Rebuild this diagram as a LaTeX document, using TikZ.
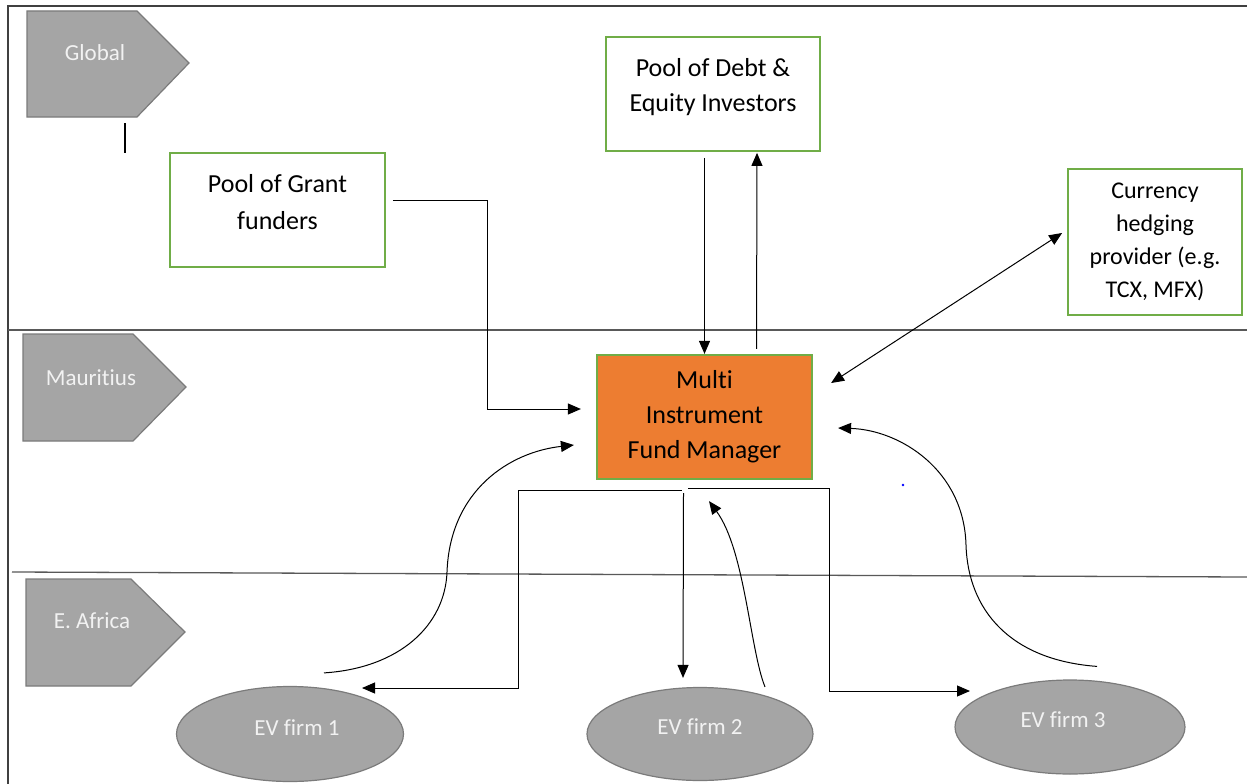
\documentclass[tikz,border=0pt]{standalone}
\usepackage{fontspec}
\setmainfont[RawFeature={-liga;-clig;-calt;-dlig}]{Carlito}
\usetikzlibrary{arrows.meta,shapes.geometric}
\definecolor{grn}{HTML}{70AD47}
\definecolor{org}{HTML}{ED7D31}
\definecolor{gry}{HTML}{A5A5A5}
\definecolor{gryd}{HTML}{7B7B7B}
\definecolor{txtw}{HTML}{F2F2F2}
\definecolor{framec}{HTML}{404040}
\definecolor{lanec}{HTML}{595959}
\tikzset{
  greenbox/.style={draw=grn, line width=1.8pt, fill=white, inner sep=0pt},
  boxtext/.style={align=center, inner sep=0pt, font=\fontsize{26}{35}\selectfont},
  fmbox/.style={draw=grn, line width=2.2pt, fill=org, align=center, inner sep=0pt,
     font=\fontsize{26}{35}\selectfont, minimum width=215pt, minimum height=124pt},
  firm/.style={ellipse, draw=gryd, line width=1.2pt, fill=gry, inner sep=0pt},
  firmtext/.style={text=txtw, inner sep=0pt, font=\fontsize{23}{28}\selectfont},
  lanebox/.style={draw=gryd, fill=gry, line width=1.2pt},
  lanetext/.style={text=txtw, inner sep=0pt, font=\fontsize{23}{28}\selectfont},
  conn/.style={draw=black, line width=1pt},
  arr/.style={conn, -{Triangle[length=13pt,width=11pt]}},
  darr/.style={conn, {Triangle[length=13pt,width=11pt]}-{Triangle[length=13pt,width=11pt]}},
}
\begin{document}
\begin{tikzpicture}[x=1pt,y=-1pt]
\useasboundingbox (0,0) rectangle (1247,784);
\fill[white] (0,0) rectangle (1247,784);

% frame and lanes
\draw[framec, line width=1.3pt] (1247,6) -- (8,6) -- (8,784);
\draw[lanec, line width=1.3pt] (8,330) -- (1247,330);
\draw[lanec, line width=1.3pt] (12,572) -- (1247,577);

% lane markers
\draw[lanebox] (27,11) -- (137,11) -- (189,63) -- (137,117) -- (27,117) -- cycle;
\node[lanetext] (lglobal) at (95,53) {Global};
\draw[black, line width=1.2pt] (125,123) -- (125,153);

\draw[lanebox] (23,334) -- (133,334) -- (186,387) -- (133,441) -- (23,441) -- cycle;
\node[lanetext] (lmaur) at (91,378) {Maurit\kern0pt ius};

\draw[lanebox] (26,579) -- (131,579) -- (185,632) -- (131,686) -- (26,686) -- cycle;
\node[lanetext] (lafr) at (92,621) {E. Africa};

% boxes
\node[greenbox, minimum width=215pt, minimum height=114pt] (grant) at (277.5,210) {};
\node[boxtext, font=\fontsize{26}{37}\selectfont] (grantt) at (277.5,202) {Pool of Grant\\funders};

\node[greenbox, minimum width=214pt, minimum height=114pt] (debt) at (713,94) {};
\node[boxtext] (debtt) at (713,87) {Pool of Debt \&\\Equity Investors};

\node[greenbox, minimum width=174pt, minimum height=146pt, align=center,
      font=\fontsize{24}{33}\selectfont] (cur) at (1155,242)
      {Currency\\hedging\\provider (e.g.\\TCX, MFX)};

\node[fmbox] (fm) at (704.5,417) {Mult\kern0pt i\\Instrument\\Fund Manager};

% EV firms
\node[firm, minimum width=227pt, minimum height=95pt] (ev1) at (290,734) {};
\node[firmtext] (ev1t) at (297,728) {EV firm 1};
\node[firm, minimum width=226pt, minimum height=93pt] (ev2) at (700,734) {};
\node[firmtext] (ev2t) at (700,727) {EV firm 2};
\node[firm, minimum width=230pt, minimum height=94pt] (ev3) at (1070,727) {};
\node[firmtext] (ev3t) at (1063,720) {EV firm 3};

% connectors
\draw[arr] (grant.east) ++(7,-10) -| (487,409) -- ([xshift=-15pt,yshift=8pt]fm.west);
\draw[arr] (debt.south -| fm.north) ++(0,6) -- (fm.north);
\draw[arr] ([xshift=52pt,yshift=5pt]fm.north) -- ([xshift=44pt,yshift=-1pt]debt.south);
\draw[darr] ([xshift=-5pt,yshift=9pt]cur.west) -- ([xshift=18pt,yshift=34pt]fm.east);

\draw[arr] ([shift={(34,-13)}]ev1.north) .. controls (400,668) and (445,625) .. (447,572)
   .. controls (450,490) and (510,452) .. ([shift={(-22,28)}]fm.west);
\draw[arr] ([shift={(-23,10)}]fm.south) -| (518,688) -- ([shift={(72,-46)}]ev1.center);

\draw[arr] ([shift={(-21,13)}]fm.south) -- ([shift={(-17,-9)}]ev2.north);
\draw[arr] ([shift={(65,0)}]ev2.north) .. controls (750,650) and (745,550) .. ([shift={(4.5,21)}]fm.south);

\draw[arr] ([shift={(-16.5,8)}]fm.south) -| (829,691) -- ([shift={(-100,-36)}]ev3.center);
\draw[arr] ([shift={(27,-13)}]ev3.north) .. controls (1010,660) and (968,610) .. (966,545)
   .. controls (964,470) and (900,430) .. ([shift={(25,11)}]fm.east);

\fill[blue] (903,485) circle (1.3);
\end{tikzpicture}
\end{document}
